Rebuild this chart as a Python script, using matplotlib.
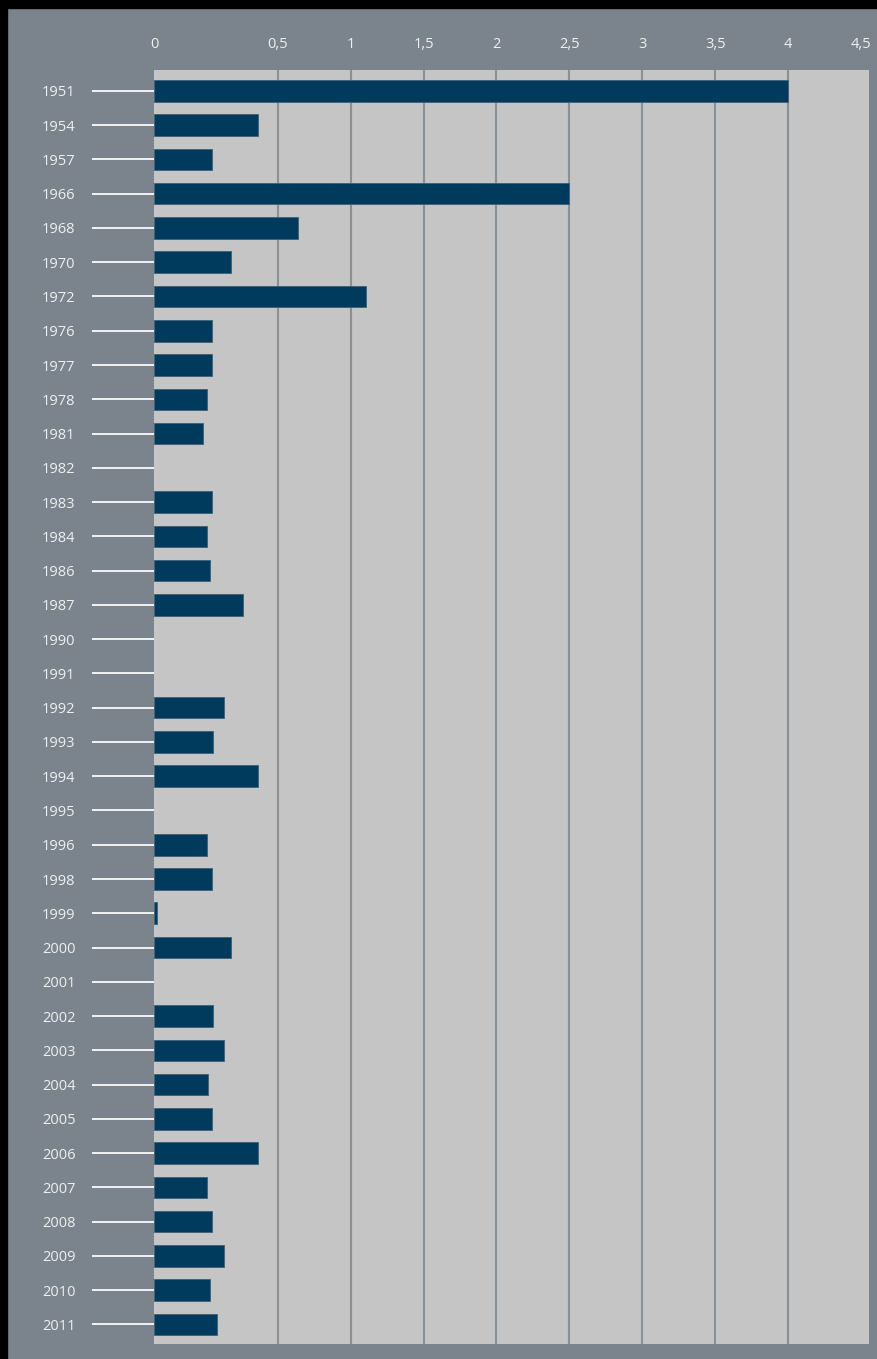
import numpy as np
import matplotlib.pyplot as plt
from matplotlib.patches import Rectangle

years = ['1951', '1954', '1957', '1966', '1968', '1970', '1972', '1976', '1977',
         '1978', '1981', '1982', '1983', '1984', '1986', '1987', '1990', '1991',
         '1992', '1993', '1994', '1995', '1996', '1998', '1999', '2000', '2001',
         '2002', '2003', '2004', '2005', '2006', '2007', '2008', '2009', '2010',
         '2011']
values = [4.0, 0.42, 0.233, 2.5, 0.64, 0.31, 1.105, 0.234, 0.234,
          0.213, 0.2, 0.0, 0.233, 0.213, 0.226, 0.361, 0.0, 0.0,
          0.283, 0.238, 0.42, 0.0, 0.213, 0.233, 0.013, 0.311, 0.0,
          0.24, 0.284, 0.218, 0.234, 0.42, 0.213, 0.233, 0.284, 0.226,
          0.253]
xticks = [0, 0.5, 1, 1.5, 2, 2.5, 3, 3.5, 4, 4.5]
xticklabels = ['0', '0,5', '1', '1,5', '2', '2,5', '3', '3,5', '4', '4,5']

# the first half unit is drawn wider than the rest
k = 1.697


def fwd(v):
    v = np.asarray(v, dtype=float)
    return np.where(v <= 0.5, v * k, 0.5 * k + (v - 0.5))


def inv(u):
    u = np.asarray(u, dtype=float)
    return np.where(u <= 0.5 * k, u / k, u - 0.5 * k + 0.5)


bg = '#7b848c'
txt = '#eef0f0'

fig = plt.figure(figsize=(8.77, 13.59), dpi=100, facecolor=bg)
# black strips on the top and left edges
fig.patches.append(Rectangle((0, 1351 / 1359), 1, 8 / 1359,
                             transform=fig.transFigure, color='black', zorder=-5))
fig.patches.append(Rectangle((0, 0), 7 / 877, 1,
                             transform=fig.transFigure, color='black', zorder=-5))

ax = fig.add_axes([154 / 877, 15 / 1359, 715 / 877, 1274 / 1359])
ax.set_facecolor('#c5c5c5')
ax.set_xscale('function', functions=(fwd, inv))
ax.set_xlim(0, 4.555)

y = np.arange(len(years))
lw = [0.6 if v > 0 else 0 for v in values]
ax.barh(y, values, height=0.63, color='#003a5c', edgecolor='#3d6079',
        linewidth=lw, zorder=3)
ax.set_ylim(len(years) - 1 + 0.57, -0.61)

ax.set_xticks(xticks)
ax.set_xticklabels(xticklabels)
ax.xaxis.tick_top()
ax.tick_params(axis='x', length=0, pad=13, labelsize=10.5, labelcolor=txt)
ax.grid(axis='x', color='#8a9196', linewidth=1.5, zorder=1)
# no line at 0 or 4.5, only the plot edge
gl = ax.get_xgridlines()
gl[0].set_visible(False)
gl[-1].set_visible(False)

ax.set_yticks(y)
ax.set_yticklabels(years)
ax.tick_params(axis='y', length=44.6, width=1.4, color='#f2f2f2', pad=12,
               labelsize=10.5, labelcolor=txt)

for s in ax.spines.values():
    s.set_visible(False)

for lab in ax.get_xticklabels() + ax.get_yticklabels():
    lab.set_fontfamily('Open Sans')

fig.savefig('out.png', dpi=100, facecolor=fig.get_facecolor())
